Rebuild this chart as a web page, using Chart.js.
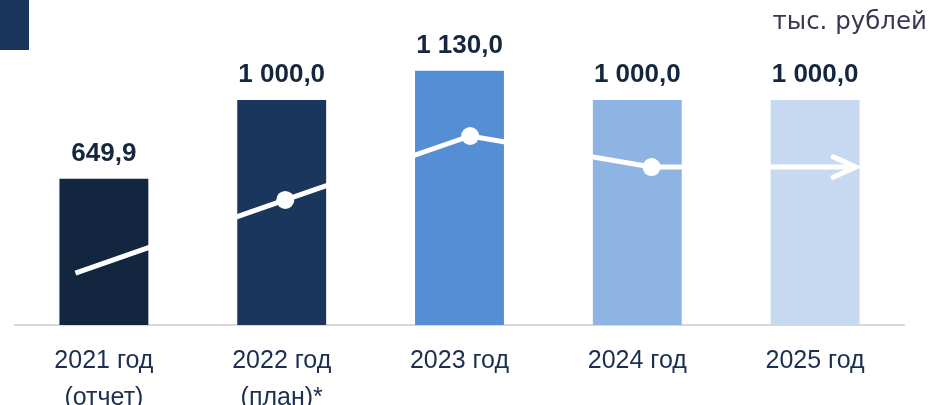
<!DOCTYPE html>
<html>
<head>
<meta charset="utf-8">
<script src="https://cdn.jsdelivr.net/npm/chart.js@4"></script>
<style>
  html, body { margin: 0; padding: 0; background: #fff; }
  #wrap { width: 932px; height: 405px; position: relative; }
</style>
</head>
<body>
<div id="wrap"><canvas id="budgetChart"></canvas></div>
<script>
// bar data
const years = [["2021 год", "(отчет)"], ["2022 год", "(план)*"], "2023 год", "2024 год", "2025 год"];
const amounts = [649.9, 1000.0, 1130.0, 1000.0, 1000.0];
const barColors = ["#12263f", "#1a365d", "#558ed5", "#8eb4e3", "#c6d9f1"];

// white trend line drawn over the bars (x in category units)
const trendX = [-0.16, 1.02, 2.06, 3.08, 4.23];
const trendY = [231, 556, 840, 702, 702];
const trendDots = [0, 9, 9, 9, 0];

const unitText = "тыс. рублей";

function formatRu(v) {
  let parts = v.toFixed(1).split(".");
  let intPart = parts[0].replace(/\B(?=(\d{3})+(?!\d))/g, " ");
  return intPart + "," + parts[1];
}

const decorPlugin = {
  id: "decor",
  beforeDraw(chart) {
    const ctx = chart.ctx;
    ctx.save();
    ctx.fillStyle = "#1a365d";
    ctx.fillRect(0, 0, 29, 50);
    ctx.fillStyle = "#3c3553";
    ctx.font = "24.5px 'DejaVu Sans', sans-serif";
    ctx.textAlign = "right";
    ctx.textBaseline = "alphabetic";
    ctx.fillText(unitText, 927, 29);
    ctx.restore();
  },
  afterDatasetsDraw(chart) {
    const ctx = chart.ctx;
    // value labels above bars
    const barMeta = chart.getDatasetMeta(0);
    ctx.save();
    ctx.fillStyle = "#14273f";
    ctx.font = "bold 26px 'Liberation Sans', Arial, sans-serif";
    ctx.textAlign = "center";
    ctx.textBaseline = "middle";
    barMeta.data.forEach(function (bar, i) {
      ctx.fillText(formatRu(amounts[i]), bar.x, bar.y - 25);
    });
    // arrow head at end of the trend line
    const pts = chart.getDatasetMeta(1).data;
    const a = pts[pts.length - 2];
    const b = pts[pts.length - 1];
    const ang = Math.atan2(b.y - a.y, b.x - a.x);
    const len = 25;
    ctx.strokeStyle = "#ffffff";
    ctx.lineWidth = 5;
    ctx.lineCap = "round";
    ctx.beginPath();
    ctx.moveTo(b.x - len * Math.cos(ang - 0.42), b.y - len * Math.sin(ang - 0.42));
    ctx.lineTo(b.x, b.y);
    ctx.lineTo(b.x - len * Math.cos(ang + 0.42), b.y - len * Math.sin(ang + 0.42));
    ctx.stroke();
    ctx.restore();
  },
};

const config = {
  data: {
    labels: years,
    datasets: [
      {
        type: "bar",
        data: amounts,
        backgroundColor: barColors,
        barPercentage: 0.5,
        categoryPercentage: 1.0,
        grouped: false,
        order: 2,
      },
      {
        type: "line",
        xAxisID: "xl",
        data: trendX.map((x, i) => ({ x: x, y: trendY[i] })),
        borderColor: "#ffffff",
        borderWidth: 5,
        pointRadius: trendDots,
        pointHoverRadius: trendDots,
        pointBackgroundColor: "#ffffff",
        pointBorderWidth: 0,
        tension: 0,
        order: 1,
      },
    ],
  },
  options: {
    responsive: true,
    maintainAspectRatio: false,
    animation: false,
    layout: {
      padding: { top: 55, left: 15, right: 28, bottom: 0 },
    },
    scales: {
      x: {
        type: "category",
        offset: true,
        grid: { display: false },
        border: { display: true, color: "#d9d9d9", width: 2 },
        ticks: {
          color: "#1b2f4f",
          padding: 10,
          font: { family: "'Liberation Sans', Arial, sans-serif", size: 25, lineHeight: 1.48 },
          maxRotation: 0,
          autoSkip: false,
        },
        afterFit(scale) {
          scale.height = 80;
        },
      },
      xl: {
        type: "linear",
        display: false,
        min: -0.5,
        max: 4.5,
      },
      y: {
        display: false,
        min: 0,
        max: 1200,
      },
    },
    plugins: {
      legend: { display: false },
      tooltip: { enabled: false },
    },
  },
  plugins: [decorPlugin],
};

new Chart(document.getElementById("budgetChart"), config);
</script>
</body>
</html>
